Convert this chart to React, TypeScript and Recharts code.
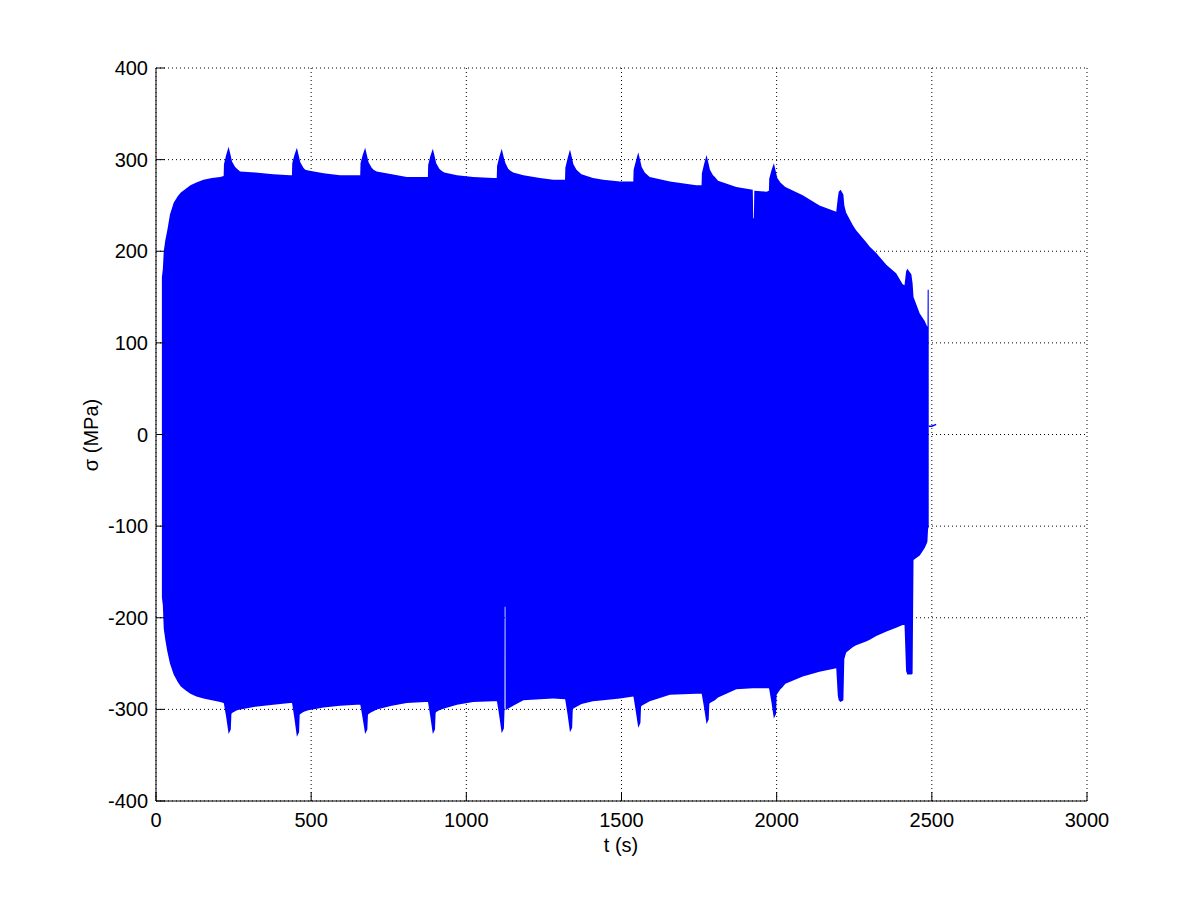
import React from 'react';
import { ComposedChart, Area, Line, XAxis, YAxis, CartesianGrid } from 'recharts';

// envelope of the stress signal (t in s, upper / lower bound in MPa)
const times = [
  19, 22, 25, 30, 36, 45, 57, 70, 80, 95, 111, 130, 153, 180, 207,
  218, 219, 226, 234, 241, 243, 245, 255, 261, 271,
  320, 378, 432,
  438, 439, 446, 454, 461, 463, 465, 475, 481, 491,
  540, 593, 647,
  658, 659, 666, 674, 681, 683, 685, 695, 701, 711,
  760, 808, 868,
  876, 877, 884, 892, 899, 901, 903, 913, 919, 929,
  970, 1022, 1087,
  1098, 1099, 1106, 1114, 1121, 1123, 1123.6, 1126, 1126.4, 1135, 1141, 1151,
  1184, 1237, 1280,
  1318, 1319, 1326, 1334, 1341, 1343, 1345, 1355, 1361, 1371,
  1408, 1441, 1495,
  1538, 1539, 1546, 1554, 1561, 1563, 1565, 1575, 1581, 1591,
  1656, 1741,
  1758, 1759, 1766, 1774, 1781, 1783, 1785, 1795, 1801, 1811,
  1870, 1923, 1924.5, 1926.5, 1928, 1967,
  1975, 1976, 1983, 1991, 1998, 2000, 2002, 2012, 2018, 2028,
  2084, 2138, 2192, 2197, 2200, 2206, 2215, 2218, 2224, 2246, 2256, 2288,
  2300, 2321, 2354, 2385, 2406, 2412, 2417, 2421, 2434, 2438, 2441, 2461,
  2477, 2485, 2486, 2486.5, 2488, 2490,
];
const upper = [
  172, 180, 200, 212, 222, 240, 253, 260, 264, 268, 272, 275, 278, 280, 281,
  282, 295, 305, 314, 304, 301, 298, 292, 290, 287,
  286, 284, 283,
  283, 296, 305, 313, 303, 300, 297, 291, 289, 288,
  285, 283, 283,
  283, 296, 305, 313, 303, 300, 297, 291, 289, 287,
  284, 281, 281,
  281, 294, 304, 312, 302, 299, 296, 290, 288, 286,
  283, 281, 280,
  280, 293, 303, 312, 302, 299, 299, 296, 296, 290, 288, 286,
  283, 280, 278,
  278, 291, 301, 311, 301, 298, 295, 289, 287, 284,
  280, 278, 276,
  276, 289, 298, 308, 298, 295, 292, 286, 284, 281,
  276, 272,
  272, 285, 295, 305, 295, 292, 289, 283, 281, 277,
  270, 267, 236, 236, 266, 265,
  266, 279, 288, 296, 286, 283, 280, 275, 273, 270,
  261, 250, 243, 258, 265, 267, 262, 250, 242, 228, 223, 210,
  205, 198, 185, 176, 164, 163, 178, 181, 175, 165, 150, 132,
  124, 118, 118, 158, 158, 158,
];
const lower = [
  -178, -186, -212, -224, -236, -250, -262, -270, -275, -279, -283, -286, -288, -290, -292,
  -293, -294, -308, -327, -322, -305, -304, -302, -301, -300,
  -297, -295, -293,
  -293, -294, -310, -330, -325, -306, -305, -303, -302, -301,
  -298, -296, -295,
  -295, -296, -310, -327, -322, -306, -305, -303, -302, -300,
  -296, -293, -292,
  -292, -293, -308, -327, -322, -304, -303, -301, -300, -299,
  -295, -292, -291,
  -291, -292, -307, -326, -321, -302, -188, -188, -301, -299, -298, -296,
  -290, -289, -288,
  -289, -290, -305, -325, -320, -300, -299, -297, -296, -294,
  -291, -290, -288,
  -286, -287, -302, -320, -315, -297, -296, -294, -293, -291,
  -284, -283,
  -283, -284, -298, -316, -311, -294, -293, -291, -290, -287,
  -278, -277, -277, -277, -277, -277,
  -277, -278, -292, -310, -305, -284, -283, -278, -276, -272,
  -264, -259, -255, -285, -290, -292, -290, -245, -238, -232, -230, -226,
  -224, -220, -215, -211, -208, -208, -258, -262, -262, -261, -137, -132,
  -124, -118, -116, -112, -103, -101,
];

// short flat pieces of the signal before and after the oscillation
const startTimes = [0, 18];
const startStress = [0, 0];
const tailTimes = [2490, 2500, 2514];
const tailStress = [9, 9, 11];

const xTicks = [0, 500, 1000, 1500, 2000, 2500, 3000];
const yTicks = [-400, -300, -200, -100, 0, 100, 200, 300, 400];

const envelope = times.map((t, i) => ({ t, range: [lower[i], upper[i]] }));
const start = startTimes.map((t, i) => ({ t, s: startStress[i] }));
const tail = tailTimes.map((t, i) => ({ t, s: tailStress[i] }));

const FONT = '"Liberation Sans", Arial, Helvetica, sans-serif';
const TICK_LEN = 9;
const BLUE = '#0000ff';

const BottomTick = (props: any) => {
  const { x, y, payload } = props;
  return (
    <g>
      <line x1={x} y1={y} x2={x} y2={y - TICK_LEN} stroke="#000" />
      <text x={x} y={y + 26} textAnchor="middle" fontSize={20} fontFamily={FONT} fill="#000">
        {payload.value}
      </text>
    </g>
  );
};

const LeftTick = (props: any) => {
  const { x, y, payload } = props;
  return (
    <g>
      <line x1={x} y1={y} x2={x + TICK_LEN} y2={y} stroke="#000" />
      <text x={x - 8} y={y + 7} textAnchor="end" fontSize={20} fontFamily={FONT} fill="#000">
        {payload.value}
      </text>
    </g>
  );
};

const TopTick = (props: any) => {
  const { x, y } = props;
  return <line x1={x} y1={y} x2={x} y2={y + TICK_LEN} stroke="#000" />;
};

const RightTick = (props: any) => {
  const { x, y } = props;
  return <line x1={x} y1={y} x2={x - TICK_LEN} y2={y} stroke="#000" />;
};

const App: React.FC = () => {
  return (
    <div style={{ position: 'absolute', left: 0, top: 0, width: 1201, height: 900, background: '#fff' }}>
      <ComposedChart width={1201} height={900} margin={{ top: 68, right: 114, bottom: 39, left: 76 }}>
        <CartesianGrid stroke="#000" strokeDasharray="1 3" />
        <XAxis
          dataKey="t"
          type="number"
          domain={[0, 3000]}
          ticks={xTicks}
          allowDataOverflow
          height={60}
          tickSize={0}
          tickMargin={0}
          tickLine={false}
          axisLine={{ stroke: '#000' }}
          tick={BottomTick}
          label={{
            content: () => (
              <text x={621} y={852} textAnchor="middle" fontSize={20} fontFamily={FONT} fill="#000">
                t (s)
              </text>
            ),
          }}
        />
        <XAxis
          xAxisId="top"
          orientation="top"
          type="number"
          domain={[0, 3000]}
          ticks={xTicks}
          allowDataOverflow
          height={0}
          tickSize={0}
          tickMargin={0}
          tickLine={false}
          axisLine={{ stroke: '#000' }}
          tick={TopTick}
        />
        <YAxis
          type="number"
          domain={[-400, 400]}
          ticks={yTicks}
          allowDataOverflow
          width={80}
          tickSize={0}
          tickMargin={0}
          tickLine={false}
          axisLine={{ stroke: '#000' }}
          tick={LeftTick}
          label={{
            content: () => (
              <text
                x={98}
                y={435}
                transform="rotate(-90 98 435)"
                textAnchor="middle"
                fontSize={20}
                fontFamily={FONT}
                fill="#000"
              >
                σ (MPa)
              </text>
            ),
          }}
        />
        <YAxis
          yAxisId="right"
          orientation="right"
          type="number"
          domain={[-400, 400]}
          ticks={yTicks}
          allowDataOverflow
          width={0}
          tickSize={0}
          tickMargin={0}
          tickLine={false}
          axisLine={{ stroke: '#000' }}
          tick={RightTick}
        />
        <Area
          data={envelope}
          dataKey="range"
          type="linear"
          stroke="none"
          fill={BLUE}
          fillOpacity={1}
          dot={false}
          activeDot={false}
          isAnimationActive={false}
        />
        <Line data={start} dataKey="s" type="linear" stroke={BLUE} strokeWidth={1} dot={false} isAnimationActive={false} />
        <Line data={tail} dataKey="s" type="linear" stroke={BLUE} strokeWidth={1.5} dot={false} isAnimationActive={false} />
      </ComposedChart>
    </div>
  );
};

export default App;
